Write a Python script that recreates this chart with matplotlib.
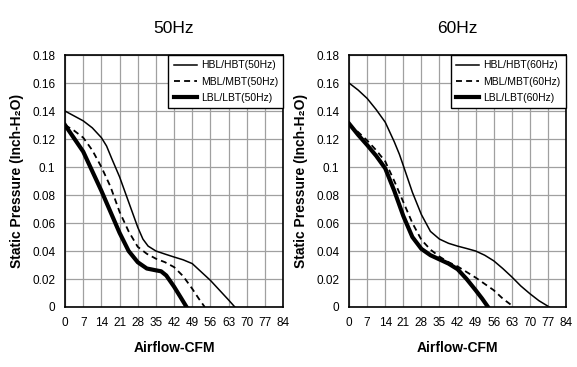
import matplotlib
matplotlib.use("Agg")
import matplotlib.pyplot as plt

plt.rcParams['font.family'] = ['Liberation Sans', 'DejaVu Sans']

x_ticks = [0, 7, 14, 21, 28, 35, 42, 49, 56, 63, 70, 77, 84]
y_ticks = [0, 0.02, 0.04, 0.06, 0.08, 0.1, 0.12, 0.14, 0.16, 0.18]
y_tick_labels = ["0", "0.02", "0.04", "0.06", "0.08", "0.1", "0.12", "0.14", "0.16", "0.18"]

# 50Hz
h50_x = [0, 3.5, 7, 10.5, 14, 16, 18, 21, 24.5, 28, 30, 32, 35, 38.5, 42, 45.5, 49, 52.5, 56, 59.5, 63, 65.4]
h50_y = [0.14, 0.1365, 0.133, 0.128, 0.121, 0.115, 0.106, 0.093, 0.075, 0.057, 0.0485, 0.0435, 0.040, 0.0378, 0.0357, 0.0337, 0.031, 0.025, 0.019, 0.012, 0.005, 0.0]
m50_x = [0, 3.5, 7, 10.5, 14, 17.5, 21, 24.5, 28, 31.5, 35, 38.5, 42, 45.5, 49, 51.5, 53.8]
m50_y = [0.13, 0.126, 0.121, 0.112, 0.100, 0.086, 0.068, 0.054, 0.043, 0.038, 0.0345, 0.032, 0.0285, 0.022, 0.013, 0.006, 0.0]
l50_x = [0, 3.5, 7, 10.5, 14, 17.5, 21, 24.5, 28, 31.5, 35, 37, 39, 42, 44.5, 46.8]
l50_y = [0.13, 0.1205, 0.111, 0.097, 0.083, 0.068, 0.053, 0.040, 0.032, 0.0275, 0.0262, 0.0255, 0.0225, 0.0145, 0.007, 0.0]

# 60Hz
h60_x = [0, 3.5, 7, 10.5, 14, 17.5, 19.5, 21, 24.5, 28, 31.5, 35, 38.5, 42, 45.5, 49, 52.5, 56, 59.5, 63, 66.5, 70, 73.5, 77.5]
h60_y = [0.16, 0.155, 0.149, 0.141, 0.132, 0.118, 0.109, 0.101, 0.082, 0.066, 0.054, 0.0485, 0.0455, 0.0435, 0.0418, 0.040, 0.037, 0.033, 0.0275, 0.0215, 0.015, 0.0095, 0.0045, 0.0]
m60_x = [0, 3.5, 7, 10.5, 14, 17.5, 21, 24.5, 28, 31.5, 35, 38.5, 42, 45.5, 49, 52.5, 56, 59.5, 63.8]
m60_y = [0.13, 0.125, 0.119, 0.112, 0.104, 0.090, 0.075, 0.060, 0.048, 0.041, 0.036, 0.032, 0.029, 0.025, 0.021, 0.0165, 0.012, 0.006, 0.0]
l60_x = [0, 3.5, 7, 10.5, 14, 17.5, 21, 24.5, 28, 31.5, 35, 38.5, 42, 45.5, 49, 51.5, 53.8]
l60_y = [0.131, 0.123, 0.1157, 0.108, 0.099, 0.083, 0.065, 0.050, 0.0415, 0.037, 0.034, 0.031, 0.027, 0.020, 0.012, 0.006, 0.0]

fig = plt.figure(figsize=(5.77, 3.67), dpi=100)
ax1 = fig.add_axes([0.1127, 0.1635, 0.378, 0.6865])
ax2 = fig.add_axes([0.605, 0.1635, 0.376, 0.6865])

def draw(ax, title, hx, hy, mx, my, lx, ly, hz):
    ax.plot(hx, hy, color='black', lw=1.1, label=f'HBL/HBT({hz})')
    ax.plot(mx, my, color='black', lw=1.3, ls=(0, (3.3, 2.3)), label=f'MBL/MBT({hz})')
    ax.plot(lx, ly, color='black', lw=3.0, label=f'LBL/LBT({hz})')
    ax.set_xlim(0, 84)
    ax.set_ylim(0, 0.18)
    ax.set_xticks(x_ticks)
    ax.set_yticks(y_ticks)
    ax.set_yticklabels(y_tick_labels)
    ax.tick_params(length=0, labelsize=8.5, pad=7)
    ax.grid(True, color='#a0a0a0', lw=0.9)
    ax.set_axisbelow(True)
    for s in ax.spines.values():
        s.set_color('black')
        s.set_linewidth(1.2)
    ax.set_title(title, fontsize=12.5, pad=16)
    ax.set_xlabel('Airflow-CFM', fontsize=10, fontweight='bold', labelpad=9)
    ax.set_ylabel('Static Pressure (Inch-H₂O)', fontsize=10, fontweight='bold', labelpad=6)
    leg = ax.legend(loc='upper right', fontsize=7.5, frameon=True, fancybox=False,
                    edgecolor='black', framealpha=1, borderaxespad=0, handlelength=2.2,
                    handletextpad=0.4, borderpad=0.5, labelspacing=0.6)
    leg.get_frame().set_linewidth(1.0)

draw(ax1, '50Hz', h50_x, h50_y, m50_x, m50_y, l50_x, l50_y, '50Hz')
draw(ax2, '60Hz', h60_x, h60_y, m60_x, m60_y, l60_x, l60_y, '60Hz')

fig.savefig('out.png', dpi=100)
